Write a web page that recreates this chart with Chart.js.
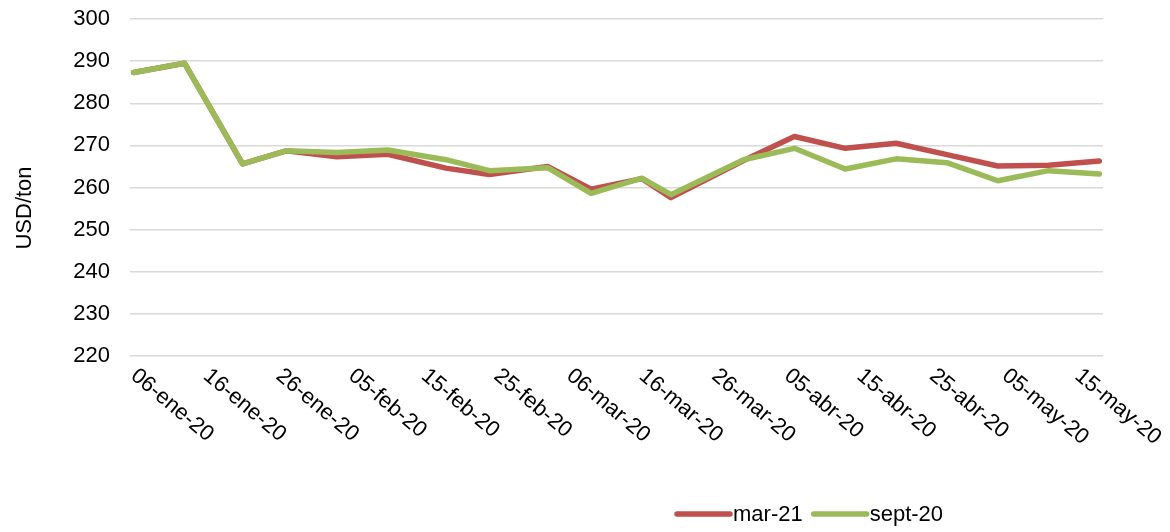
<!DOCTYPE html>
<html>
<head>
<meta charset="utf-8">
<script src="https://cdn.jsdelivr.net/npm/chart.js@4.4.0/dist/chart.umd.min.js"></script>
<style>
  html, body { margin: 0; padding: 0; background: #fff; }
  #wrap { width: 1170px; height: 532px; }
</style>
</head>
<body>
<div id="wrap"><canvas id="precios"></canvas></div>
<script>
// cotizaciones semanales, USD/ton
var fechas = ['2020-01-06', '2020-01-13', '2020-01-21', '2020-01-27', '2020-02-03',
              '2020-02-10', '2020-02-18', '2020-02-24', '2020-03-03', '2020-03-09',
              '2020-03-16', '2020-03-20', '2020-03-30', '2020-04-06', '2020-04-13',
              '2020-04-20', '2020-04-27', '2020-05-04', '2020-05-11', '2020-05-18'];
var mar21  = [287.3, 289.5, 265.6, 268.7, 267.3, 267.9, 264.6, 263.1, 265.0, 259.6,
              262.1, 257.6, 266.4, 272.1, 269.3, 270.5, 267.8, 265.1, 265.3, 266.3];
var sept20 = [287.3, 289.5, 265.6, 268.7, 268.3, 268.9, 266.6, 264.0, 264.7, 258.6,
              262.2, 258.3, 266.6, 269.3, 264.4, 266.8, 265.9, 261.6, 264.0, 263.2];
var etiquetasX = ['06-ene-20', '16-ene-20', '26-ene-20', '05-feb-20', '15-feb-20',
                  '25-feb-20', '06-mar-20', '16-mar-20', '26-mar-20', '05-abr-20',
                  '15-abr-20', '25-abr-20', '05-may-20', '15-may-20'];
var rangoY = [220, 300];
var pasoY = 10;

var meses = ['ene', 'feb', 'mar', 'abr', 'may', 'jun', 'jul', 'ago', 'sep', 'oct', 'nov', 'dic'];
var fuente = "'Liberation Sans', Arial, sans-serif";
var colores = { mar21: '#c0504d', sept20: '#9bbb59' };

function dia(anio, mes, d) {
    return (Date.UTC(anio, mes, d) - Date.UTC(2020, 0, 6)) / 864e5;
}
function diaIso(iso) {
    var p = iso.split('-');
    return dia(+p[0], p[1] - 1, +p[2]);
}
function diaEtiqueta(txt) {
    var p = txt.split('-');
    return dia(2000 + (+p[2]), meses.indexOf(p[1]), +p[0]);
}
function serie(valores) {
    return fechas.map(function(f, i){
        return { x: diaIso(f), y: valores[i] };
    });
}

// etiquetas del eje X inclinadas, título del eje Y y leyenda
var extras = {
    id: 'extras',
    afterDraw: function(chart){
        var ctx = chart.ctx;
        var sx = chart.scales.x;
        var area = chart.chartArea;
        ctx.save();
        ctx.fillStyle = '#000';
        ctx.font = '22px ' + fuente;
        ctx.textAlign = 'left';
        ctx.textBaseline = 'middle';
        etiquetasX.forEach(function(txt){
            var px = sx.getPixelForValue(diaEtiqueta(txt));
            ctx.save();
            ctx.translate(px, area.bottom + 17);
            ctx.rotate(40 * Math.PI / 180);
            ctx.fillText(txt, 0, 0);
            ctx.restore();
        });

        ctx.save();
        ctx.translate(25, 208);
        ctx.rotate(-Math.PI / 2);
        ctx.textAlign = 'center';
        ctx.fillText('USD/ton', 0, 0);
        ctx.restore();

        var x = 677, y = 514;
        chart.data.datasets.slice().sort(function(a, b){ return b.order - a.order; }).forEach(function(ds){
            ctx.strokeStyle = ds.borderColor;
            ctx.lineWidth = 5.5;
            ctx.lineCap = 'round';
            ctx.beginPath();
            ctx.moveTo(x, y);
            ctx.lineTo(x + 53, y);
            ctx.stroke();
            ctx.fillText(ds.label, x + 56, y + 1);
            x += 56 + ctx.measureText(ds.label).width + 11;
        });
        ctx.restore();
    }
};

var ctx = document.getElementById('precios');
var chart = new Chart(ctx, {
    type: 'line',
    data: {
        datasets: [{
            label: 'mar-21',
            data: serie(mar21),
            borderColor: colores.mar21,
            borderWidth: 5.5,
            order: 2
        }, {
            label: 'sept-20',
            data: serie(sept20),
            borderColor: colores.sept20,
            borderWidth: 5.5,
            order: 1
        }]
    },
    options: {
        responsive: true,
        maintainAspectRatio: false,
        animation: false,
        layout: {
            padding: { top: 19, right: 67, bottom: 176, left: 0 }
        },
        elements: {
            point: { radius: 0, hoverRadius: 0 },
            line: { tension: 0, fill: false, borderCapStyle: 'round', borderJoinStyle: 'round' }
        },
        plugins: {
            legend: { display: false },
            tooltip: { enabled: false }
        },
        scales: {
            x: {
                type: 'linear',
                display: false,
                min: diaIso(fechas[0]) - 0.5,
                max: diaIso(fechas[fechas.length - 1]) + 0.5
            },
            y: {
                min: rangoY[0],
                max: rangoY[1],
                afterFit: function(scale){ scale.width = 130; },
                border: { display: false },
                // marcas invisibles: dejan el hueco entre números y rejilla
                grid: { color: '#d9d9d9', lineWidth: 1.5, drawTicks: true, tickLength: 20, tickColor: 'rgba(0,0,0,0)' },
                ticks: {
                    stepSize: pasoY,
                    padding: 0,
                    color: '#000',
                    font: { family: fuente, size: 22 }
                }
            }
        }
    },
    plugins: [extras]
});
</script>
</body>
</html>
